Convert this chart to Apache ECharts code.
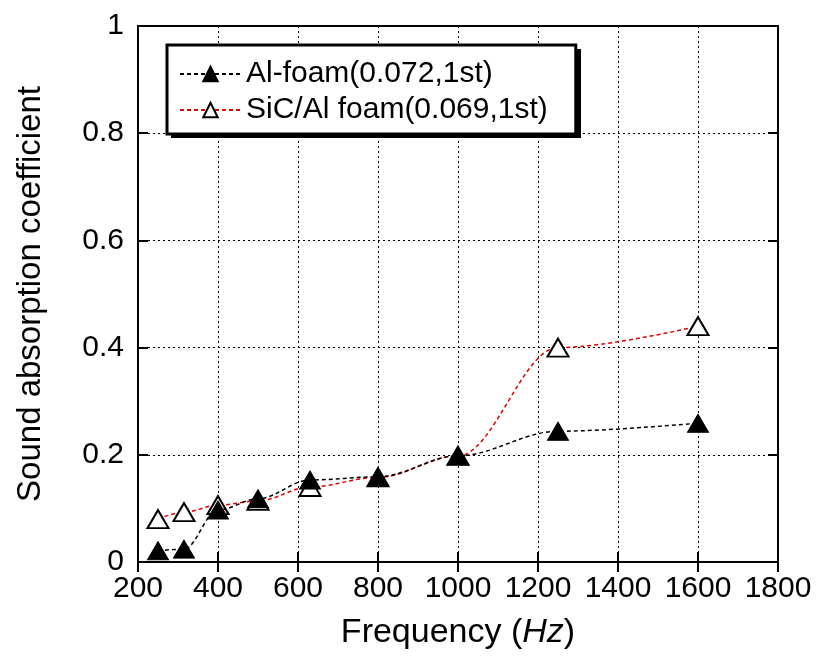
<!DOCTYPE html>
<html>
<head>
<meta charset="utf-8">
<script src="https://cdn.jsdelivr.net/npm/echarts@6/dist/echarts.min.js"></script>
<style>
  html, body { margin: 0; padding: 0; background: #fff; }
  #container { width: 816px; height: 662px; }
</style>
</head>
<body>
<div id="container"></div>
<script>
let chart = echarts.init(document.getElementById('container'));

// frequencies (Hz)
var freq = [250, 315, 400, 500, 630, 800, 1000, 1250, 1600];
// sound absorption coefficient
var alFoam = [0.021, 0.024, 0.097, 0.118, 0.153, 0.159, 0.198, 0.244, 0.259];
var sicFoam = [0.080, 0.093, 0.106, 0.114, 0.140, 0.158, 0.198, 0.400, 0.440];
var seriesNames = ['Al-foam(0.072,1st)', 'SiC/Al foam(0.069,1st)'];

var font = '"Liberation Sans", Arial, sans-serif';

function pairs(xs, ys) {
    return xs.map((x, i) => [x, ys[i]]);
}

var tickStyle = { inside: true, length: 10, lineStyle: { color: '#000', width: 2 } };
var gridLine = { show: true, lineStyle: { color: '#000', type: [2, 3], width: 1 } };

let option = {
    animation: false,
    textStyle: { fontFamily: font },
    grid: {
        left: 138,
        right: 38,
        top: 26,
        bottom: 100,
        show: true,
        borderColor: '#000',
        borderWidth: 2,
    },
    // drop shadow behind the legend box
    graphic: [{
        type: 'rect',
        left: 171,
        top: 49,
        shape: { width: 410, height: 89 },
        style: { fill: '#000' },
        z: 90,
    }],
    legend: {
        orient: 'vertical',
        left: 167,
        top: 45,
        padding: [14, 28, 9, 12],
        itemGap: 6,
        itemWidth: 61,
        itemHeight: 18,
        backgroundColor: '#fff',
        borderColor: '#000',
        borderWidth: 3,
        borderRadius: 0,
        z: 100,
        textStyle: { fontSize: 30, color: '#000', fontFamily: font },
        data: seriesNames,
    },
    xAxis: [{
        type: 'value',
        min: 200,
        max: 1800,
        interval: 200,
        name: '{a|Frequency (}{b|Hz}{a|)}',
        nameLocation: 'middle',
        nameGap: 54,
        nameTextStyle: {
            rich: {
                a: { fontSize: 34, color: '#000', fontFamily: font },
                b: { fontSize: 34, color: '#000', fontStyle: 'italic', fontFamily: font },
            },
        },
        axisLine: { lineStyle: { color: '#000', width: 2 } },
        axisTick: tickStyle,
        axisLabel: { fontSize: 30, color: '#000', margin: 12, formatter: v => String(v) },
        splitLine: gridLine,
    }, {
        type: 'value',
        position: 'top',
        min: 200,
        max: 1800,
        interval: 200,
        axisLine: { show: false },
        axisTick: tickStyle,
        axisLabel: { show: false },
        splitLine: { show: false },
    }],
    yAxis: [{
        type: 'value',
        min: 0,
        max: 1,
        interval: 0.2,
        name: 'Sound absorption coefficient',
        nameLocation: 'middle',
        nameGap: 91,
        nameTextStyle: { fontSize: 33, color: '#000' },
        axisLine: { show: true, lineStyle: { color: '#000', width: 2 } },
        axisTick: Object.assign({ show: true }, tickStyle),
        axisLabel: { fontSize: 30, color: '#000', margin: 14, formatter: v => String(v) },
        splitLine: gridLine,
    }, {
        type: 'value',
        position: 'right',
        min: 0,
        max: 1,
        interval: 0.2,
        axisLine: { show: false },
        axisTick: Object.assign({ show: true }, tickStyle),
        axisLabel: { show: false },
        splitLine: { show: false },
    }],
    series: [{
        name: seriesNames[0],
        type: 'line',
        smooth: 0.35,
        smoothMonotone: 'x',
        symbol: 'triangle',
        symbolSize: [21, 18],
        itemStyle: { color: '#000', borderColor: '#000', borderWidth: 1 },
        lineStyle: { color: '#000', width: 1.5, type: [4, 3] },
        data: pairs(freq, alFoam),
        z: 3,
    }, {
        name: seriesNames[1],
        type: 'line',
        smooth: 0.35,
        smoothMonotone: 'x',
        symbol: 'triangle',
        symbolSize: [21, 18],
        itemStyle: { color: '#fff', borderColor: '#000', borderWidth: 2 },
        lineStyle: { color: '#e00000', width: 1.5, type: [4, 3] },
        data: pairs(freq, sicFoam),
        z: 2,
    }],
};

chart.setOption(option);
</script>
</body>
</html>
